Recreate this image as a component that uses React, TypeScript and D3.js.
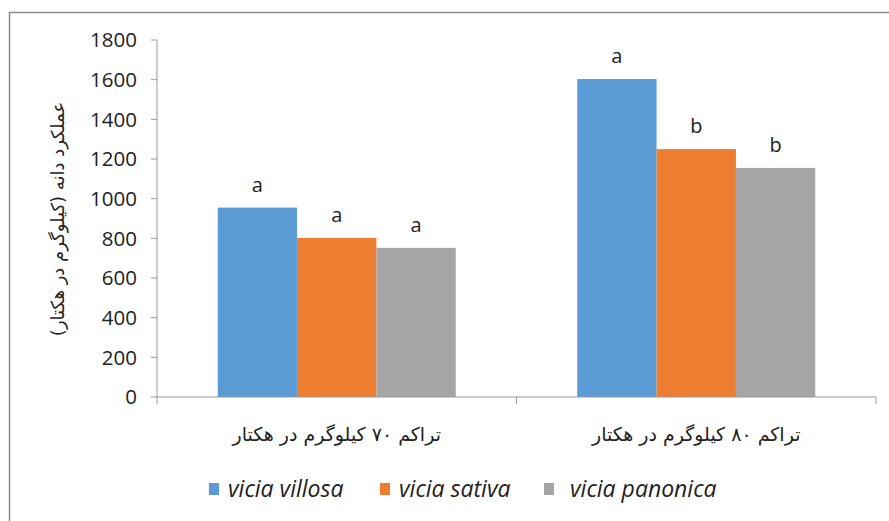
import React from "react";
import * as d3 from "d3";

const categories = ["تراکم ۷۰ کیلوگرم در هکتار", "تراکم ۸۰ کیلوگرم در هکتار"];
const seriesNames = ["vicia villosa", "vicia sativa", "vicia panonica"];
const villosa = [955, 1603];
const sativa = [802, 1250];
const panonica = [752, 1155];
const lettersVillosa = ["a", "a"];
const lettersSativa = ["a", "b"];
const lettersPanonica = ["a", "b"];
const yTicks = [0, 200, 400, 600, 800, 1000, 1200, 1400, 1600, 1800];
const yLabel = "عملکرد دانه (کیلوگرم در هکتار)";
const colors = ["#5b9bd5", "#ed7d31", "#a5a5a5"];

export default function App() {
  const W = 889, H = 521;
  const x0 = 157, x1 = 876, yTop = 40, yBot = 397;
  const series = [villosa, sativa, panonica];
  const letters = [lettersVillosa, lettersSativa, lettersPanonica];
  const y = d3.scaleLinear().domain([0, 1800]).range([yBot, yTop]);
  const xOuter = d3.scaleBand<string>().domain(categories).range([x0, x1]).paddingInner(0).paddingOuter(0);
  const bw = xOuter.bandwidth();
  const xInner = d3.scaleBand<string>().domain(seriesNames).range([0.169 * bw, 0.831 * bw]);
  const font = "'Open Sans', Lato, sans-serif";
  const faFont = "'DejaVu Sans', 'Noto Sans', sans-serif";
  const legendX = [209, 380, 544];
  const legendTextX = [228, 399, 570];
  return (
    <svg width={W} height={H} style={{ position: "absolute", left: 0, top: 0, background: "#fff" }}>
      <rect x={9.5} y={12.5} width={900} height={600} fill="#fff" stroke="#8a8a8a" strokeWidth={1.5} />
      {/* y axis */}
      <line x1={x0} x2={x0} y1={yTop} y2={yBot} stroke="#999" />
      {yTicks.map((t) => (
        <g key={t}>
          <line x1={x0 - 6} x2={x0} y1={y(t)} y2={y(t)} stroke="#999" />
          <text x={x0 - 20} y={y(t)} dy="0.36em" textAnchor="end" fontFamily={font} fontSize={20.5} fill="#222">
            {t}
          </text>
        </g>
      ))}
      {/* bars */}
      {categories.map((c, ci) =>
        series.map((s, si) => {
          const bx = (xOuter(c) as number) + (xInner(seriesNames[si]) as number);
          return (
            <g key={c + si}>
              <rect x={bx} y={y(s[ci])} width={xInner.bandwidth()} height={yBot - y(s[ci])} fill={colors[si]} />
              <text x={bx + xInner.bandwidth() / 2} y={y(s[ci]) - 16} textAnchor="middle" fontFamily={font} fontSize={20} fill="#222">
                {letters[si][ci]}
              </text>
            </g>
          );
        })
      )}
      {/* x axis */}
      <line x1={x0} x2={x1} y1={yBot} y2={yBot} stroke="#999" />
      {[x0, x0 + bw, x1].map((t, i) => (
        <line key={i} x1={t} x2={t} y1={yBot} y2={yBot + 7} stroke="#999" />
      ))}
      {categories.map((c) => (
        <text key={c} x={(xOuter(c) as number) + bw / 2} y={441} textAnchor="middle" direction="rtl" fontFamily={faFont} fontSize={19} fill="#222">
          {c}
        </text>
      ))}
      {/* y label */}
      <text transform={`translate(64, 219) rotate(-90)`} textAnchor="middle" direction="rtl" fontFamily={faFont} fontSize={18} fill="#222">
        {yLabel}
      </text>
      {/* legend */}
      {seriesNames.map((n, i) => (
        <g key={n}>
          <rect x={legendX[i]} y={483} width={10} height={12} fill={colors[i]} />
          <text x={legendTextX[i]} y={497} fontFamily={font} fontStyle="italic" fontSize={23} fill="#222">
            {n}
          </text>
        </g>
      ))}
    </svg>
  );
}
